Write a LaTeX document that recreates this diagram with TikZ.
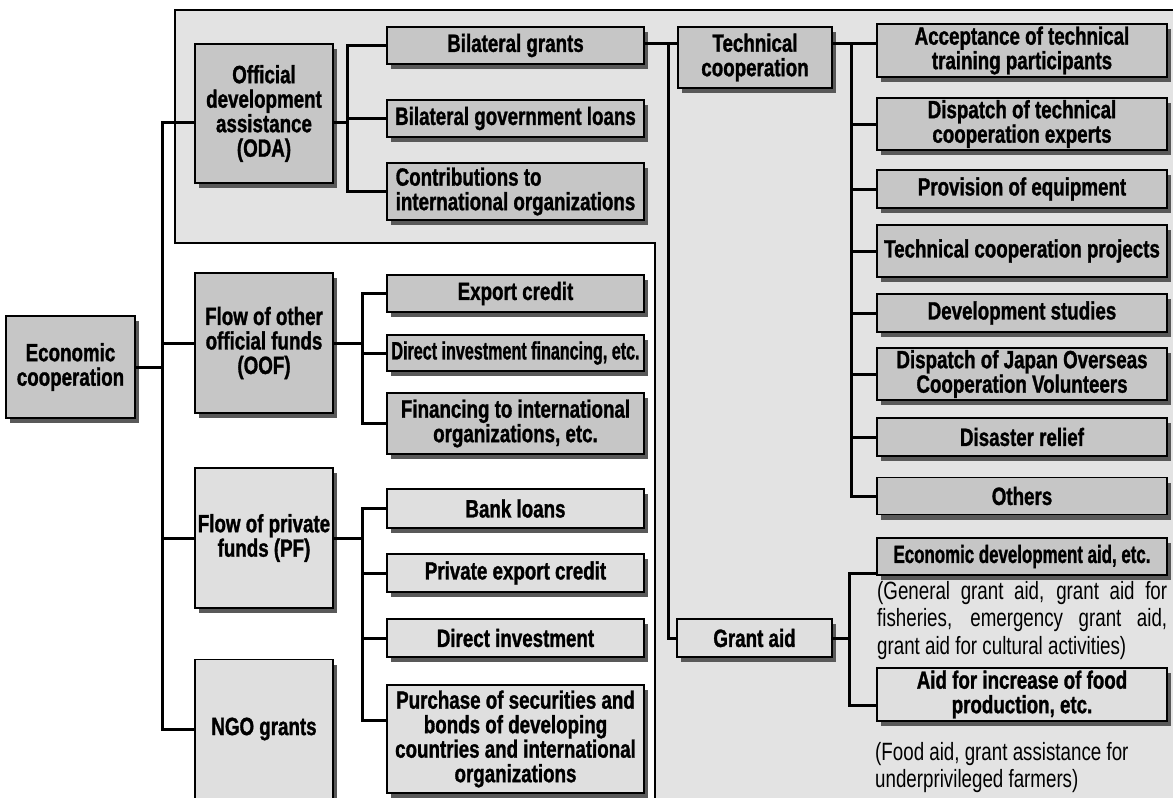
\documentclass[tikz,border=0pt]{standalone}
\usepackage{fontspec}
\usepackage{graphicx}
\setmainfont[FakeStretch=0.75, BoldFeatures={FakeStretch=0.75, FakeBold=1.2}]{Liberation Sans}
\usetikzlibrary{shadows}
\begin{document}
\begin{tikzpicture}[x=1pt,y=-1pt,
  box/.style={draw=black, line width=1.6pt, fill=gray!45, inner sep=0pt, align=center,
    font=\bfseries\fontsize{25}{24.5}\selectfont,
    drop shadow={shadow xshift=4pt, shadow yshift=-5pt, fill=black!65, opacity=1}},
  lbox/.style={box, fill=gray!25},
  conn/.style={line width=3pt, line cap=rect},
  note/.style={inner sep=0pt, font=\fontsize{25}{27.5}\selectfont}]
\useasboundingbox (0,0) rectangle (1173,798);
\fill[white] (0,0) rectangle (1173,798);
% ODA region
\fill[gray!22] (175,10) -- (1173,10) -- (1173,798) -- (655,798) -- (655,243) -- (175,243) -- cycle;
\draw[line width=1.3pt] (1173,10) -- (175,10) -- (175,243) -- (655,243) -- (655,798);

% level 1 and 2
\node[box, minimum width=129pt, minimum height=102pt] (econ) at (70.5,367) {Economic\\cooperation};
\node[box, minimum width=138pt, minimum height=139pt] (oda) at (264,113.5) {Official\\development\\assistance\\(ODA)};
\node[box, minimum width=138pt, minimum height=140pt] (oof) at (264,343) {Flow of other\\official funds\\(OOF)};
\node[lbox, minimum width=138pt, minimum height=140pt] (pf) at (264,538) {Flow of private\\funds (PF)};
\node[lbox, minimum width=138pt, minimum height=139pt] (ngo) at (264,729) {NGO grants};

% ODA children
\node[box, minimum width=257pt, minimum height=37pt] (bg) at (515.5,45.5) {Bilateral grants};
\node[box, minimum width=257pt, minimum height=37pt] (bgl) at (515.5,118.5) {Bilateral government loans};
\node[box, minimum width=257pt, minimum height=57pt, align=left] (cio) at (515.5,191.5) {Contributions to\\international organizations};

% OOF children
\node[box, minimum width=257pt, minimum height=37pt] (ec) at (515.5,293.5) {Export credit};
\node[box, minimum width=257pt, minimum height=36pt] (dif) at (515.5,353) {\scalebox{0.86}[1]{Direct investment financing, etc.}};
\node[box, minimum width=257pt, minimum height=61pt] (fio) at (515.5,423.5) {Financing to international\\organizations, etc.};

% PF children
\node[lbox, minimum width=257pt, minimum height=39pt] (bl) at (515.5,508.5) {Bank loans};
\node[lbox, minimum width=257pt, minimum height=38pt] (pec) at (515.5,573) {Private export credit};
\node[lbox, minimum width=257pt, minimum height=38pt] (di) at (515.5,638) {Direct investment};
\node[lbox, minimum width=257pt, minimum height=108pt] (pos) at (515.5,739) {Purchase of securities and\\bonds of developing\\countries and international\\organizations};

% Technical cooperation and grant aid
\node[box, minimum width=154pt, minimum height=61pt] (tc) at (755,57.5) {Technical\\cooperation};
\node[lbox, minimum width=155pt, minimum height=38pt] (ga) at (754.5,638) {Grant aid};

% TC children
\node[box, minimum width=290pt, minimum height=53pt] (atp) at (1022,50.5) {Acceptance of technical\\training participants};
\node[box, minimum width=290pt, minimum height=52pt] (dte) at (1022,124) {Dispatch of technical\\cooperation experts};
\node[box, minimum width=290pt, minimum height=38pt] (poe) at (1022,189) {Provision of equipment};
\node[box, minimum width=290pt, minimum height=52pt] (tcp) at (1022,251) {Technical cooperation projects};
\node[box, minimum width=290pt, minimum height=38pt] (ds) at (1022,313) {Development studies};
\node[box, minimum width=290pt, minimum height=52pt] (joc) at (1022,374) {Dispatch of Japan Overseas\\Cooperation Volunteers};
\node[box, minimum width=290pt, minimum height=38pt] (dr) at (1022,437) {Disaster relief};
\node[box, minimum width=290pt, minimum height=37pt] (oth) at (1022,496) {Others};

% Grant aid children
\node[box, minimum width=290pt, minimum height=37pt] (eda) at (1022,556.5) {\scalebox{0.9}[1]{Economic development aid, etc.}};
\node[lbox, minimum width=290pt, minimum height=53pt] (afp) at (1022,694.5) {Aid for increase of food\\production, etc.};

\node[note, text width=290pt, align=justify, anchor=north west] (n1) at (877,581)
  {\hyphenpenalty=10000 (General grant aid, grant aid for\linebreak fisheries, emergency grant aid,\linebreak grant aid for cultural activities)};
\node[note, align=left, anchor=north west] (n2) at (875,742)
  {(Food aid, grant assistance for\\underprivileged farmers)};

% connectors
\coordinate (ms1) at (162,122);
\draw[conn] (econ.east) -- (econ.east -| ms1);
\draw[conn] (ms1) -- (ms1 |- ngo.west);
\draw[conn] (ms1) -- (ms1 -| oda.west);
\draw[conn] (ms1 |- oof.west) -- (oof.west);
\draw[conn] (ms1 |- pf.west) -- (pf.west);
\draw[conn] (ms1 |- ngo.west) -- (ngo.west);

\coordinate (os) at (347,122);
\draw[conn] (oda.east |- os) -- (os);
\draw[conn] (os |- bg.west) -- (os |- cio.west);
\draw[conn] (os |- bg.west) -- (bg.west);
\draw[conn] (os |- bgl.west) -- (bgl.west);
\draw[conn] (os |- cio.west) -- (cio.west);

\coordinate (fs) at (362,343);
\draw[conn] (oof.east) -- (oof.east -| fs);
\draw[conn] (fs |- ec.west) -- (fs |- fio.west);
\draw[conn] (fs |- ec.west) -- (ec.west);
\draw[conn] (fs |- dif.west) -- (dif.west);
\draw[conn] (fs |- fio.west) -- (fio.west);

\coordinate (ps2) at (362,720);
\draw[conn] (pf.east) -- (pf.east -| fs);
\draw[conn] (fs |- bl.west) -- (ps2);
\draw[conn] (fs |- bl.west) -- (bl.west);
\draw[conn] (fs |- pec.west) -- (pec.west);
\draw[conn] (fs |- di.west) -- (di.west);
\draw[conn] (ps2) -- (ps2 -| pos.west);

\coordinate (k1) at (668,43);
\draw[conn] (bg.east |- k1) -- (tc.west |- k1);
\draw[conn] (k1) -- (k1 |- ga.west);
\draw[conn] (k1 |- ga.west) -- (ga.west);

\coordinate (ts) at (851,43);
\draw[conn] (tc.east |- ts) -- (atp.west |- ts);
\draw[conn] (ts) -- (ts |- oth.west);
\draw[conn] (ts |- dte.west) -- (dte.west);
\draw[conn] (ts |- poe.west) -- (poe.west);
\draw[conn] (ts |- tcp.west) -- (tcp.west);
\draw[conn] (ts |- ds.west) -- (ds.west);
\draw[conn] (ts |- joc.west) -- (joc.west);
\draw[conn] (ts |- dr.west) -- (dr.west);
\draw[conn] (ts |- oth.west) -- (oth.west);

\coordinate (gs1) at (849,573);
\coordinate (gs2) at (849,705);
\draw[conn] (ga.east) -- (ga.east -| gs1);
\draw[conn] (gs1) -- (gs2);
\draw[conn] (gs1) -- (gs1 -| eda.west);
\draw[conn] (gs2) -- (gs2 -| afp.west);
\end{tikzpicture}
\end{document}
